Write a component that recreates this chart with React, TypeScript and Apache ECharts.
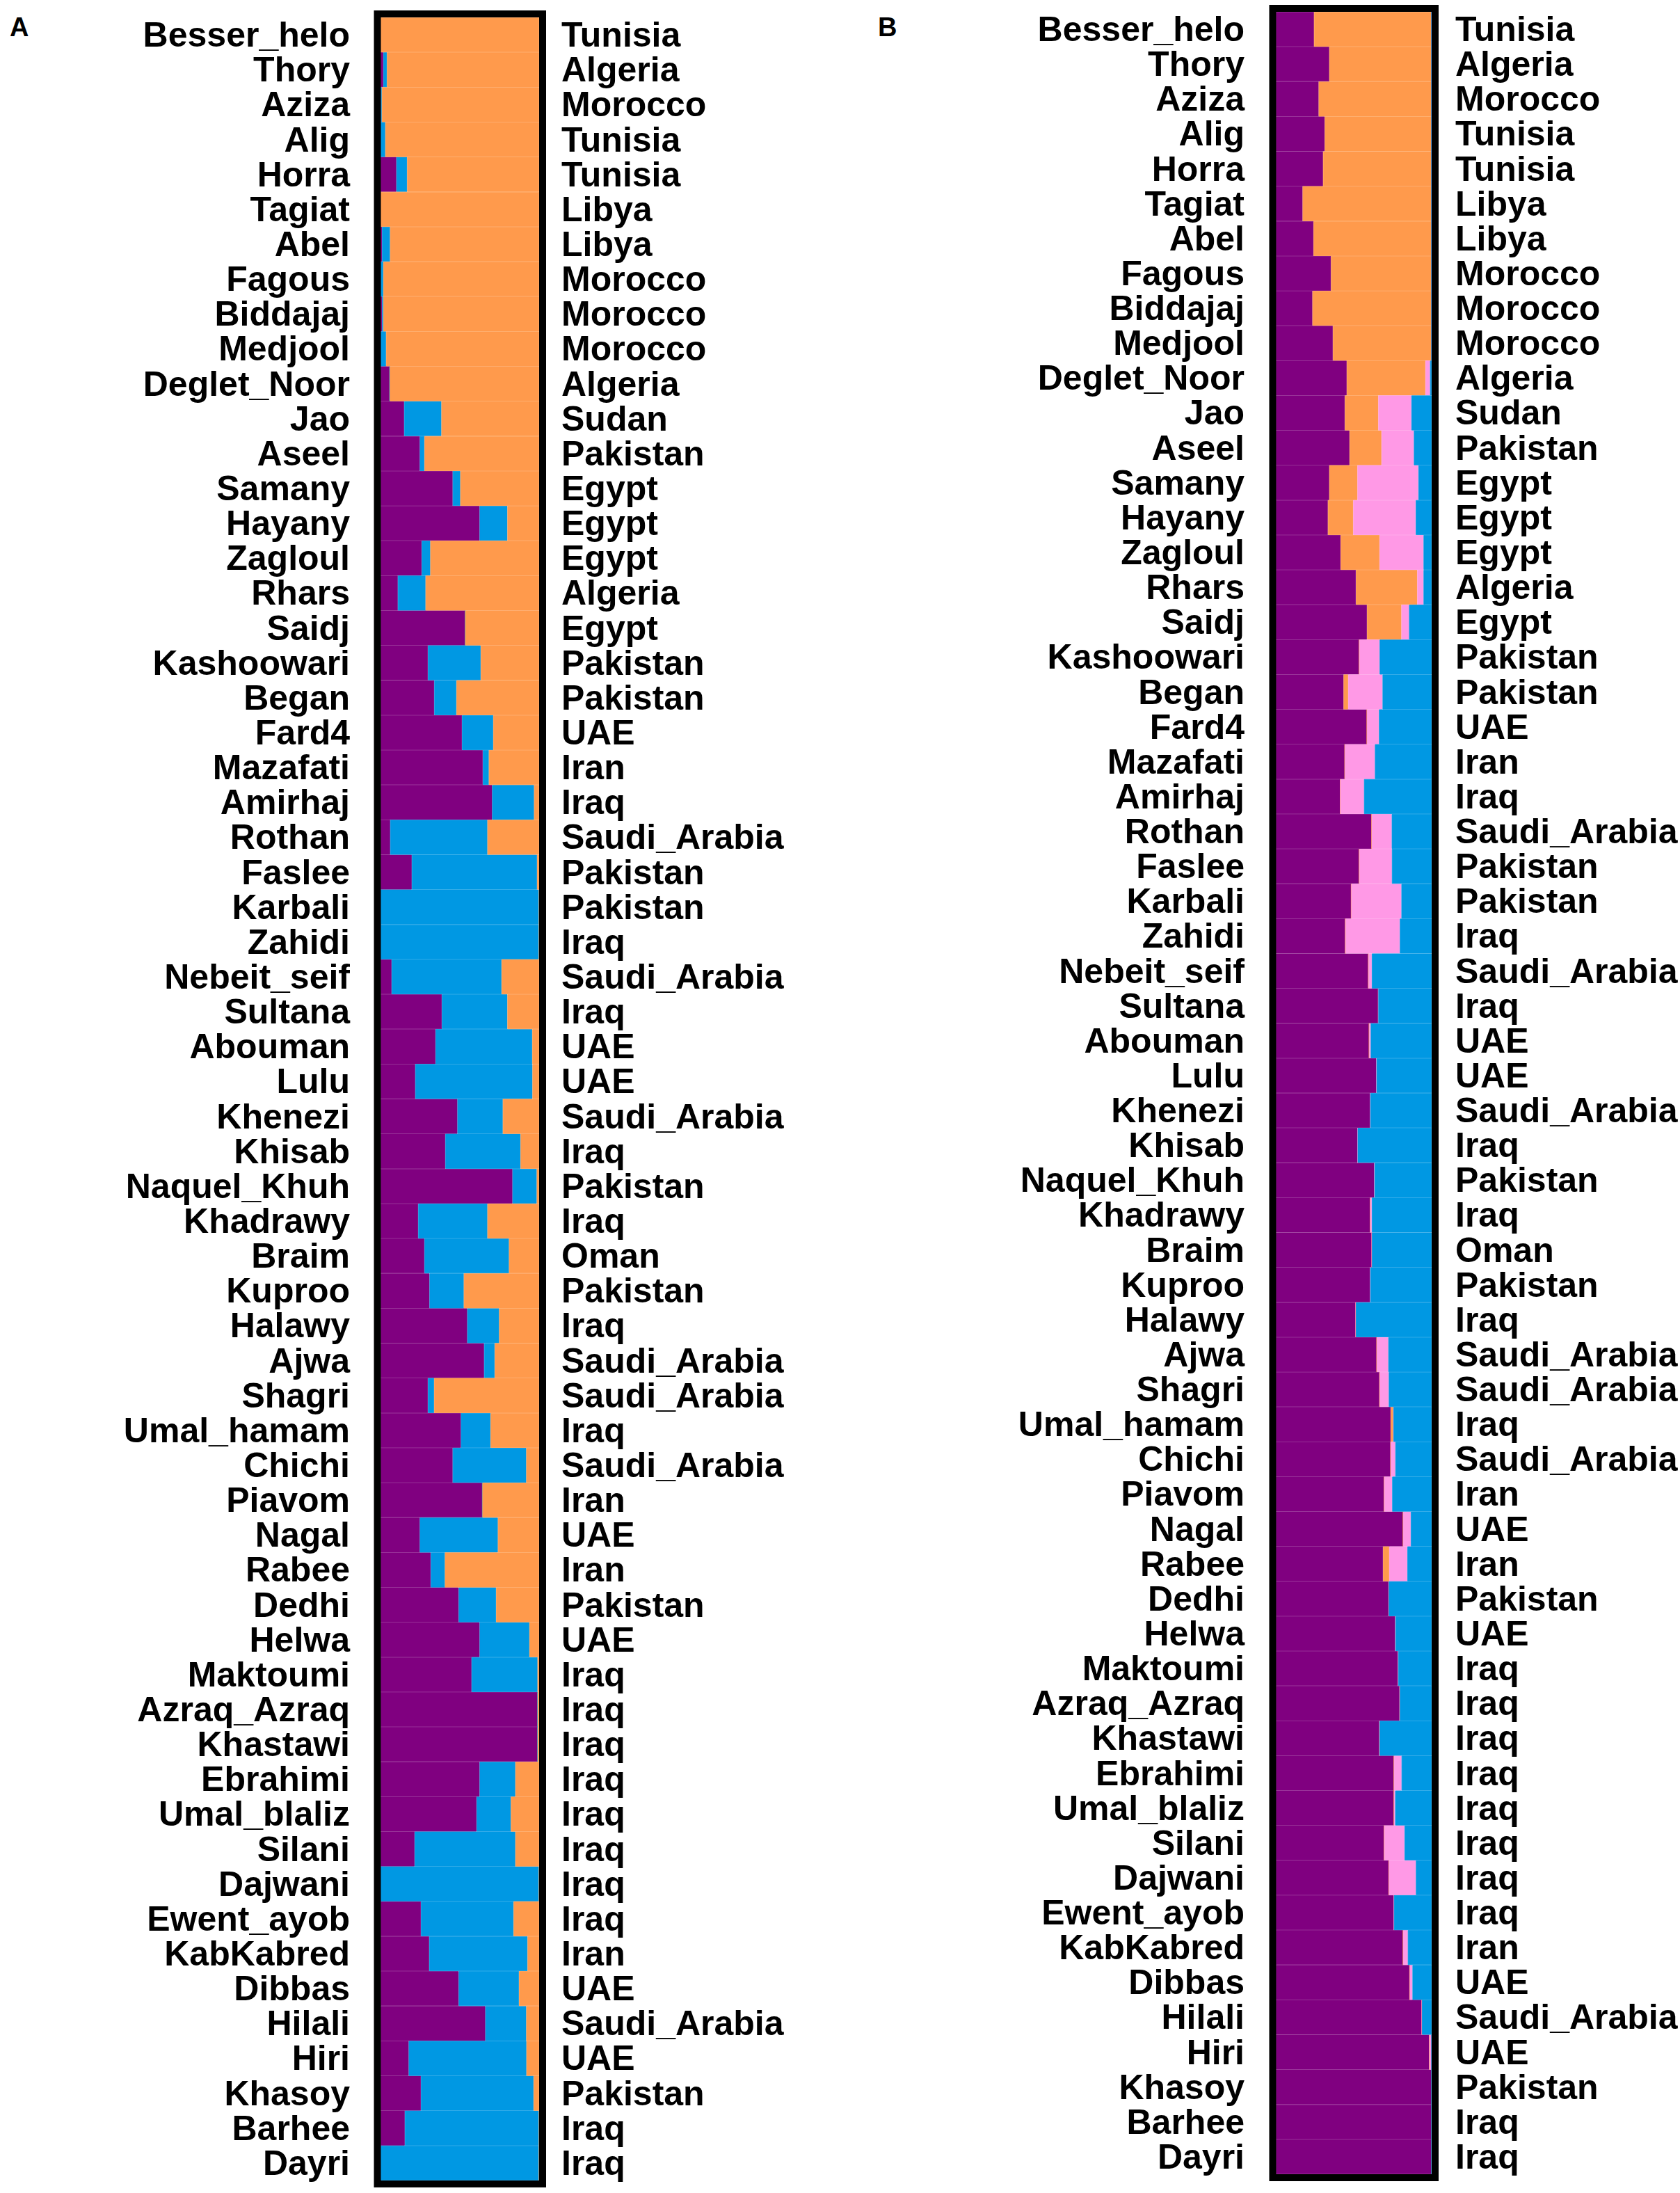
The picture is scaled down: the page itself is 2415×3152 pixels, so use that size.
import React, { useEffect, useRef } from "react";
import * as echarts from "echarts";

const cultivars = [
  "Besser_helo", "Thory", "Aziza", "Alig", "Horra", "Tagiat", "Abel", "Fagous", "Biddajaj", "Medjool",
  "Deglet_Noor", "Jao", "Aseel", "Samany", "Hayany", "Zagloul", "Rhars", "Saidj", "Kashoowari", "Began",
  "Fard4", "Mazafati", "Amirhaj", "Rothan", "Faslee", "Karbali", "Zahidi", "Nebeit_seif", "Sultana", "Abouman",
  "Lulu", "Khenezi", "Khisab", "Naquel_Khuh", "Khadrawy", "Braim", "Kuproo", "Halawy", "Ajwa", "Shagri",
  "Umal_hamam", "Chichi", "Piavom", "Nagal", "Rabee", "Dedhi", "Helwa", "Maktoumi", "Azraq_Azraq", "Khastawi",
  "Ebrahimi", "Umal_blaliz", "Silani", "Dajwani", "Ewent_ayob", "KabKabred", "Dibbas", "Hilali", "Hiri", "Khasoy",
  "Barhee", "Dayri",
];

const countries = [
  "Tunisia", "Algeria", "Morocco", "Tunisia", "Tunisia", "Libya", "Libya", "Morocco", "Morocco", "Morocco",
  "Algeria", "Sudan", "Pakistan", "Egypt", "Egypt", "Egypt", "Algeria", "Egypt", "Pakistan", "Pakistan",
  "UAE", "Iran", "Iraq", "Saudi_Arabia", "Pakistan", "Pakistan", "Iraq", "Saudi_Arabia", "Iraq", "UAE",
  "UAE", "Saudi_Arabia", "Iraq", "Pakistan", "Iraq", "Oman", "Pakistan", "Iraq", "Saudi_Arabia", "Saudi_Arabia",
  "Iraq", "Saudi_Arabia", "Iran", "UAE", "Iran", "Pakistan", "UAE", "Iraq", "Iraq", "Iraq",
  "Iraq", "Iraq", "Iraq", "Iraq", "Iraq", "Iran", "UAE", "Saudi_Arabia", "UAE", "Pakistan",
  "Iraq", "Iraq",
];

// Panel A (K = 3): purple, blue, orange
const purpleA = [
  0, 0.018, 0, 0, 0.1, 0, 0.01, 0, 0.01, 0,
  0.058, 0.149, 0.248, 0.455, 0.625, 0.26, 0.109, 0.533, 0.299, 0.339,
  0.514, 0.645, 0.704, 0.061, 0.197, 0, 0, 0.07, 0.387, 0.347,
  0.219, 0.485, 0.409, 0.832, 0.238, 0.277, 0.309, 0.547, 0.653, 0.299,
  0.507, 0.455, 0.642, 0.248, 0.317, 0.493, 0.625, 0.574, 0.99, 0.99,
  0.625, 0.606, 0.215, 0, 0.255, 0.307, 0.493, 0.661, 0.178, 0.255,
  0.153, 0,
];
const blueA = [
  0, 0.023, 0.008, 0.03, 0.068, 0, 0.05, 0.018, 0.008, 0.035,
  0, 0.235, 0.029, 0.048, 0.175, 0.054, 0.175, 0, 0.333, 0.14,
  0.197, 0.038, 0.264, 0.613, 0.79, 1, 1, 0.693, 0.413, 0.61,
  0.739, 0.286, 0.474, 0.153, 0.436, 0.533, 0.216, 0.201, 0.067, 0.039,
  0.187, 0.464, 0, 0.492, 0.089, 0.236, 0.314, 0.416, 0, 0,
  0.225, 0.216, 0.635, 1, 0.584, 0.62, 0.38, 0.258, 0.742, 0.71,
  0.847, 1,
];
const orangeA = [
  1, 0.959, 0.992, 0.97, 0.832, 1, 0.94, 0.982, 0.982, 0.965,
  0.942, 0.616, 0.723, 0.497, 0.2, 0.686, 0.716, 0.467, 0.368, 0.521,
  0.289, 0.317, 0.032, 0.326, 0.013, 0, 0, 0.237, 0.2, 0.043,
  0.042, 0.229, 0.117, 0.015, 0.326, 0.19, 0.475, 0.252, 0.28, 0.662,
  0.306, 0.081, 0.358, 0.26, 0.594, 0.271, 0.061, 0.01, 0.01, 0.01,
  0.15, 0.178, 0.15, 0, 0.161, 0.073, 0.127, 0.081, 0.08, 0.035,
  0, 0,
];

// Panel B (K = 4): purple, orange, pink, blue
const purpleB = [
  0.245, 0.343, 0.275, 0.314, 0.303, 0.172, 0.242, 0.354, 0.235, 0.366,
  0.455, 0.443, 0.473, 0.343, 0.334, 0.416, 0.514, 0.585, 0.535, 0.435,
  0.585, 0.443, 0.413, 0.615, 0.535, 0.484, 0.446, 0.594, 0.658, 0.599,
  0.646, 0.606, 0.525, 0.633, 0.606, 0.617, 0.606, 0.514, 0.648, 0.666,
  0.737, 0.737, 0.695, 0.817, 0.688, 0.725, 0.767, 0.785, 0.796, 0.666,
  0.758, 0.758, 0.695, 0.725, 0.758, 0.817, 0.859, 0.938, 0.985, 1,
  1, 1,
];
const orangeB = [
  0.755, 0.657, 0.725, 0.686, 0.697, 0.828, 0.758, 0.646, 0.765, 0.634,
  0.505, 0.215, 0.205, 0.181, 0.163, 0.25, 0.394, 0.221, 0, 0.03,
  0, 0, 0, 0, 0, 0, 0, 0, 0, 0,
  0, 0, 0, 0, 0, 0, 0, 0, 0, 0,
  0.018, 0, 0, 0, 0.04, 0, 0, 0, 0, 0,
  0, 0, 0, 0, 0, 0, 0, 0, 0, 0,
  0, 0,
];
const pinkB = [
  0, 0, 0, 0, 0, 0, 0, 0, 0, 0,
  0.03, 0.212, 0.208, 0.391, 0.401, 0.282, 0.04, 0.049, 0.131, 0.22,
  0.077, 0.193, 0.153, 0.129, 0.21, 0.322, 0.35, 0.022, 0, 0.01,
  0, 0, 0, 0, 0.01, 0, 0, 0, 0.074, 0.059,
  0, 0.03, 0.052, 0.049, 0.116, 0, 0, 0, 0, 0,
  0.049, 0.008, 0.131, 0.174, 0, 0.03, 0.018, 0, 0.015, 0,
  0, 0,
];
const blueB = [
  0, 0, 0, 0, 0, 0, 0, 0, 0, 0,
  0.01, 0.13, 0.114, 0.085, 0.102, 0.052, 0.052, 0.145, 0.334, 0.315,
  0.338, 0.364, 0.434, 0.256, 0.255, 0.194, 0.204, 0.384, 0.342, 0.391,
  0.354, 0.394, 0.475, 0.367, 0.384, 0.383, 0.394, 0.486, 0.278, 0.275,
  0.245, 0.233, 0.253, 0.134, 0.156, 0.275, 0.233, 0.215, 0.204, 0.334,
  0.193, 0.234, 0.174, 0.101, 0.242, 0.153, 0.123, 0.062, 0, 0,
  0, 0,
];

const PURPLE = "#800080";
const BLUE = "#0098E3";
const ORANGE = "#FF9A4C";
const PINK = "#FF99E6";

export default function App() {
  const ref = useRef<HTMLDivElement>(null);

  useEffect(() => {
    const chart = echarts.init(ref.current!, null, { renderer: "svg" });
    const font = "'Liberation Sans', Arial, sans-serif";
    const label = {
      fontSize: 50,
      fontWeight: "bold" as const,
      color: "#000",
      fontFamily: font,
      interval: 0,
    };
    const grids = [
      { left: 547, top: 25, width: 228, height: 3109 },
      { left: 1834, top: 17, width: 224, height: 3108 },
    ];
    const leftMargin = [44, 45];
    const rightMargin = [32, 34];

    const xAxis = grids.map((_, i) => ({
      type: "value",
      gridIndex: i,
      min: 0,
      max: 1,
      show: false,
    }));
    const yAxis: any[] = [];
    grids.forEach((_, i) => {
      yAxis.push({
        type: "category",
        gridIndex: i,
        data: cultivars,
        inverse: true,
        position: "left",
        axisLine: { show: false },
        axisTick: { show: false },
        splitLine: { show: false },
        axisLabel: { ...label, margin: leftMargin[i] },
      });
      yAxis.push({
        type: "category",
        gridIndex: i,
        data: countries,
        inverse: true,
        position: "right",
        axisLine: { show: false },
        axisTick: { show: false },
        splitLine: { show: false },
        axisLabel: { ...label, margin: rightMargin[i] },
      });
    });

    const mk = (name: string, data: number[], color: string, panel: number) => ({
      name,
      type: "bar",
      xAxisIndex: panel,
      yAxisIndex: panel * 2,
      stack: "panel" + panel,
      barWidth: "100%",
      barCategoryGap: "0%",
      data,
      itemStyle: { color, borderColor: color, borderWidth: 0.8 },
      emphasis: { disabled: true },
    });

    const series = [
      mk("A1", purpleA, PURPLE, 0),
      mk("A2", blueA, BLUE, 0),
      mk("A3", orangeA, ORANGE, 0),
      mk("B1", purpleB, PURPLE, 1),
      mk("B2", orangeB, ORANGE, 1),
      mk("B3", pinkB, PINK, 1),
      mk("B4", blueB, BLUE, 1),
    ];

    chart.setOption({
      animation: false,
      backgroundColor: "#fff",
      grid: grids.map((g) => ({ ...g, containLabel: false })),
      xAxis,
      yAxis,
      series,
      graphic: [
        {
          type: "rect",
          z: 100,
          shape: { x: 542.5, y: 20, width: 237.5, height: 3119 },
          style: { fill: "none", stroke: "#000", lineWidth: 10 },
        },
        {
          type: "rect",
          z: 100,
          shape: { x: 1829.5, y: 12, width: 233.5, height: 3118 },
          style: { fill: "none", stroke: "#000", lineWidth: 10 },
        },
        {
          type: "text",
          z: 100,
          x: 14,
          y: 20,
          style: { text: "A", fontSize: 38, fontWeight: "bold", fontFamily: font, fill: "#000" },
        },
        {
          type: "text",
          z: 100,
          x: 1262,
          y: 20,
          style: { text: "B", fontSize: 38, fontWeight: "bold", fontFamily: font, fill: "#000" },
        },
      ],
    });

    return () => chart.dispose();
  }, []);

  return (
    <div
      ref={ref}
      style={{ position: "absolute", left: 0, top: 0, width: 2415, height: 3152, background: "#fff" }}
    />
  );
}
